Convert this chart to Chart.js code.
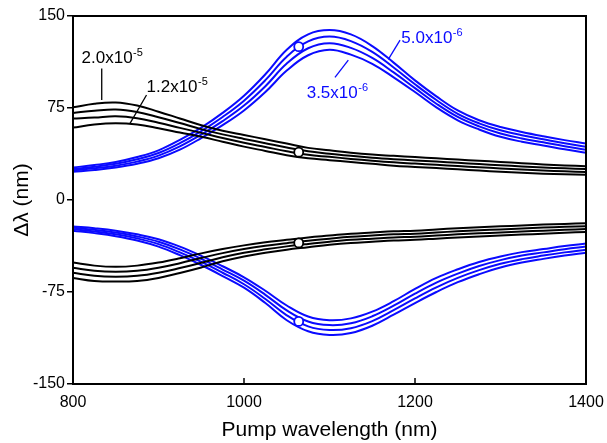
<!DOCTYPE html>
<html>
<head>
<meta charset="utf-8">
<script src="https://cdn.jsdelivr.net/npm/chart.js@4.4.1/dist/chart.umd.min.js"></script>
<style>
  html, body { margin: 0; padding: 0; background: #fff; }
</style>
</head>
<body>
<canvas id="chart" width="607" height="443"></canvas>
<script>
/* pump wavelength grid (nm), shared by every curve */
const wavelength = [800, 825, 850, 875, 900, 925, 950, 975, 1000, 1025, 1050, 1075, 1100, 1125, 1150, 1175, 1200, 1225, 1250, 1275, 1300, 1325, 1350, 1375, 1400];

/* black family, upper branch (2.0e-5 on top ... 1.2e-5 at the bottom) */
const blackUp1 = [75.5, 78.5, 79.5, 77, 72, 66.5, 61, 56.5, 53, 49.5, 46, 42.5, 40.5, 38.5, 37, 36, 35, 34, 33, 32, 31, 30, 29, 28.2, 27.5];
const blackUp2 = [71, 72.8, 73.8, 71.8, 67.5, 62.7, 57.8, 53.5, 49.8, 46.3, 42.8, 39.7, 37.8, 36, 34.5, 33.3, 32.3, 31.3, 30.3, 29.3, 28.3, 27.4, 26.5, 25.8, 25.2];
const blackUp3 = [66.5, 67.2, 68.2, 66.7, 63, 58.8, 54.7, 50.5, 46.7, 43.2, 39.7, 36.8, 35.2, 33.5, 32, 30.7, 29.7, 28.7, 27.7, 26.7, 25.7, 24.8, 24, 23.4, 22.8];
const blackUp4 = [59, 61.5, 62.5, 61.5, 58.5, 55, 51.5, 47.5, 43.5, 40, 36.5, 34, 32.5, 31, 29.5, 28, 27, 26, 25, 24, 23, 22.2, 21.5, 21, 20.5];

/* black family, lower branch */
const blackLo1 = [-51, -53.5, -54.5, -53.5, -51, -47.5, -43.5, -40, -37, -34.5, -32.5, -30.5, -29, -27.5, -26.5, -25.5, -25, -24, -23, -22.2, -21.5, -20.7, -20, -19.5, -19];
const blackLo2 = [-55.2, -57.7, -58.5, -57.7, -55.2, -51.5, -47.3, -43.3, -40, -37.3, -35.2, -33.2, -31.5, -30, -29, -28, -27.5, -26.5, -25.5, -24.7, -24, -23.2, -22.5, -21.9, -21.3];
const blackLo3 = [-59.3, -61.8, -62.5, -61.8, -59.3, -55.5, -51.2, -46.7, -43, -40.2, -37.8, -35.8, -34, -32.5, -31.5, -30.5, -30, -29, -28, -27.2, -26.5, -25.7, -25, -24.3, -23.7];
const blackLo4 = [-63.5, -66, -66.5, -66, -63.5, -59.5, -55, -50, -46, -43, -40.5, -38.5, -36.5, -35, -34, -33, -32.5, -31.5, -30.5, -29.7, -29, -28.2, -27.5, -26.7, -26];

/* blue family, upper branch (5.0e-6 on top ... 3.5e-6 at the bottom) */
const blueUp1 = [26.5, 28.5, 31, 35, 40.5, 49, 59, 71, 85, 102.5, 122.5, 135, 138.5, 135, 125.5, 112, 97.5, 84.5, 73, 65, 59.5, 55.5, 52, 48.8, 46];
const blueUp2 = [25.3, 27.2, 29.5, 33.2, 38.3, 46.3, 56.2, 67.7, 81, 97.7, 116.8, 129.3, 133.2, 129.5, 120.7, 108, 94.3, 81.5, 70.3, 62.5, 56.8, 52.8, 49.5, 46.3, 43.5];
const blueUp3 = [24.2, 25.8, 28, 31.3, 36.2, 43.7, 53.3, 64.3, 77, 92.8, 111.2, 123.7, 127.8, 124, 115.8, 104, 91.2, 78.5, 67.7, 60, 54.2, 50.2, 47, 43.8, 41];
const blueUp4 = [23, 24.5, 26.5, 29.5, 34, 41, 50.5, 61, 73, 88, 105.5, 118, 122.5, 118.5, 111, 100, 88, 75.5, 65, 57.5, 51.5, 47.5, 44.5, 41.3, 38.5];

/* blue family, lower branch */
const blueLo1 = [-21.5, -23, -25, -28, -32, -38, -45.5, -54, -63, -74, -86, -95, -98, -96.5, -91, -82.5, -72.5, -63.5, -56.5, -50.5, -46, -42.5, -40, -37.5, -35.5];
const blueLo2 = [-22.7, -24.3, -26.5, -29.7, -34, -40.3, -48, -56.7, -65.8, -77.3, -90, -99, -102, -100.5, -94.8, -86.2, -76.3, -67.3, -60, -53.8, -49, -45.3, -42.7, -40.1, -38];
const blueLo3 = [-23.8, -25.7, -28, -31.3, -36, -42.7, -50.5, -59.3, -68.7, -80.7, -94, -103, -106, -104.5, -98.7, -89.8, -80.2, -71.2, -63.5, -57.2, -52, -48.2, -45.3, -42.7, -40.5];
const blueLo4 = [-25, -27, -29.5, -33, -38, -45, -53, -62, -71.5, -84, -98, -107, -110, -108.5, -102.5, -93.5, -84, -75, -67, -60.5, -55, -51, -48, -45.3, -43];

/* open circles at the 1064 nm pump */
const markerX = [1064, 1064, 1064, 1064];
const markerY = [125, 39, -35, -99];

const xTicks = [800, 1000, 1200, 1400];
const yTicks = [-150, -75, 0, 75, 150];

const BLACK = "#000000";
const BLUE = "#0a0aff";
const FONT = "'Liberation Sans', Arial, sans-serif";

function curve(ys, color) {
  return {
    data: wavelength.map((x, i) => ({ x, y: ys[i] })),
    borderColor: color,
    borderWidth: 2,
    pointRadius: 0,
    fill: false,
    tension: 0.4,
    order: 1,
  };
}

const datasets = [
  ...[blackUp1, blackUp2, blackUp3, blackUp4, blackLo1, blackLo2, blackLo3, blackLo4].map((d) => curve(d, BLACK)),
  ...[blueUp1, blueUp2, blueUp3, blueUp4, blueLo1, blueLo2, blueLo3, blueLo4].map((d) => curve(d, BLUE)),
  {
    data: markerX.map((x, i) => ({ x, y: markerY[i] })),
    showLine: false,
    pointRadius: 4.5,
    pointBorderWidth: 1.8,
    pointBackgroundColor: "#ffffff",
    pointBorderColor: markerY.map((y) => (Math.abs(y) > 80 ? BLUE : BLACK)),
    order: 0,
  },
];

/* curve labels, placed in data units */
const curveLabels = [
  { text: "2.0x10", sup: "-5", x: 810, y: 111.4, color: BLACK, lead: [833.6, 107.3, 833.6, 81.5] },
  { text: "1.2x10", sup: "-5", x: 886, y: 88.3, color: BLACK, lead: [886, 85.6, 866.7, 62.5] },
  { text: "5.0x10", sup: "-6", x: 1184, y: 128, color: BLUE, lead: [1182.5, 130.4, 1168.8, 114.7] },
  { text: "3.5x10", sup: "-6", x: 1073.3, y: 82.9, color: BLUE, lead: [1106.4, 100, 1122, 114.1] },
];

const framePlugin = {
  id: "frame",
  afterDraw(chart) {
    const { ctx, chartArea: a, scales } = chart;
    ctx.save();
    ctx.strokeStyle = BLACK;
    ctx.lineWidth = 2;
    ctx.strokeRect(a.left, a.top, a.right - a.left, a.bottom - a.top);
    // x ticks point inward
    ctx.lineWidth = 1.5;
    xTicks.forEach((v) => {
      const px = scales.x.getPixelForValue(v);
      ctx.beginPath();
      ctx.moveTo(px, a.bottom);
      ctx.lineTo(px, a.bottom - 6);
      ctx.stroke();
    });
    // curve labels with leader lines
    curveLabels.forEach((l) => {
      const x = scales.x.getPixelForValue(l.x);
      const y = scales.y.getPixelForValue(l.y);
      ctx.fillStyle = l.color;
      ctx.strokeStyle = l.color;
      ctx.font = "17px " + FONT;
      ctx.textBaseline = "alphabetic";
      ctx.fillText(l.text, x, y);
      const w = ctx.measureText(l.text).width;
      ctx.font = "11px " + FONT;
      ctx.fillText(l.sup, x + w + 0.5, y - 7);
      ctx.lineWidth = 1.3;
      ctx.beginPath();
      ctx.moveTo(scales.x.getPixelForValue(l.lead[0]), scales.y.getPixelForValue(l.lead[1]));
      ctx.lineTo(scales.x.getPixelForValue(l.lead[2]), scales.y.getPixelForValue(l.lead[3]));
      ctx.stroke();
    });
    ctx.restore();
  },
};

new Chart(document.getElementById("chart"), {
  type: "line",
  data: { datasets },
  options: {
    responsive: false,
    animation: false,
    devicePixelRatio: 1,
    layout: { padding: { top: 16, right: 21, left: 0, bottom: 0 } },
    plugins: { legend: { display: false }, tooltip: { enabled: false } },
    scales: {
      x: {
        type: "linear",
        min: 800,
        max: 1400,
        afterBuildTicks: (s) => { s.ticks = xTicks.map((v) => ({ value: v })); },
        afterFit: (s) => { s.height = 59; s.paddingLeft = 0; s.paddingRight = 0; },
        grid: { display: false, drawTicks: false },
        border: { display: false },
        ticks: { color: BLACK, font: { family: FONT, size: 16 }, padding: 9, maxRotation: 0, callback: (v) => String(v) },
        title: { display: true, text: "Pump wavelength (nm)", color: BLACK, font: { family: FONT, size: 21 }, padding: { top: 0, bottom: 0 } },
      },
      y: {
        min: -150,
        max: 150,
        afterBuildTicks: (s) => { s.ticks = yTicks.map((v) => ({ value: v })); },
        afterFit: (s) => { s.width = 73; s.paddingTop = 0; s.paddingBottom = 0; },
        grid: { drawOnChartArea: false, drawTicks: true, tickLength: 6, color: BLACK, lineWidth: 1.5 },
        border: { display: false },
        ticks: { color: BLACK, font: { family: FONT, size: 16 }, padding: 2, callback: (v) => String(v) },
        title: { display: true, text: "Δλ (nm)", color: BLACK, font: { family: FONT, size: 21 }, padding: { top: 10, bottom: 0 } },
      },
    },
  },
  plugins: [framePlugin],
});
</script>
</body>
</html>
